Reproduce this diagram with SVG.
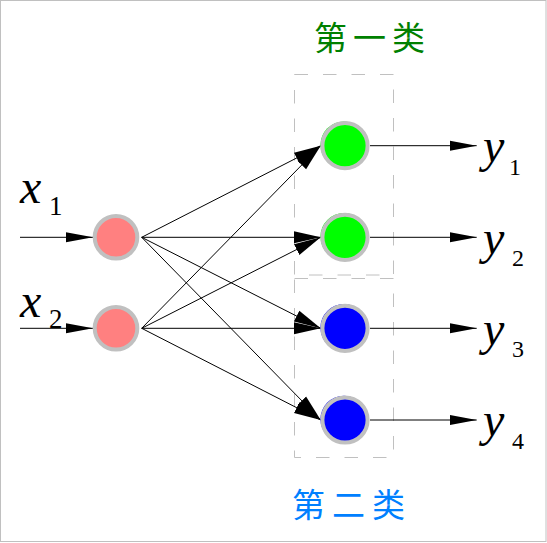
<svg xmlns="http://www.w3.org/2000/svg" width="547" height="543" viewBox="0 0 547 543">
<style>
.frame{fill:#ffffff;stroke:#c0c0c0;stroke-width:1}
.box{fill:none;stroke:#c0c0c0;stroke-width:1;stroke-dasharray:13.5 15}
.wire{stroke:#000;stroke-width:1;fill:none}
.ring{stroke:#c0c0c0;stroke-width:4}
.inp{fill:#ff8080}
.c1{fill:#00ff00}
.c2{fill:#0000ff}
.var{font-family:"Liberation Serif","Times New Roman",serif;font-style:italic;font-size:48px;fill:#000}
.subx{font-family:"Liberation Serif","Times New Roman",serif;font-size:27px;fill:#000}
.suby{font-family:"Liberation Serif","Times New Roman",serif;font-size:24px;fill:#000}
.title{font-family:"Noto Sans CJK SC",sans-serif;font-size:33px}
</style>
<defs>
<marker id="arr" markerUnits="userSpaceOnUse" markerWidth="28" markerHeight="12" refX="27" refY="6" orient="auto" viewBox="0 0 28 12">
<path d="M0,1 L27,6 L0,11 Z" fill="#000"/>
</marker>
<marker id="arrm" markerUnits="userSpaceOnUse" markerWidth="28" markerHeight="14" refX="27" refY="7" orient="auto" viewBox="0 0 28 14">
<path d="M0,1 L27,7 L0,13 Z" fill="#000"/>
</marker>
</defs>
<rect class="frame" x="0.5" y="0.5" width="545.5" height="541"/>

<g id="groups">
<rect id="box-class1" class="box" x="294.5" y="74.5" width="99" height="200.5"/>
<rect id="box-class2" class="box" x="294.5" y="278.5" width="99" height="179"/>
<text class="title" x="314" y="50" fill="#008000" letter-spacing="6">第一类</text>
<text class="title" x="292" y="517" fill="#0080ff" letter-spacing="7">第二类</text>
</g>

<g id="connectors">
<line class="wire" x1="20" y1="237.3" x2="93" y2="237.3" marker-end="url(#arr)"/>
<line class="wire" x1="20" y1="328.3" x2="93" y2="328.3" marker-end="url(#arr)"/>
<line class="wire" x1="141.7" y1="237.3" x2="320.7" y2="145.7" marker-end="url(#arrm)"/>
<line class="wire" x1="141.7" y1="237.3" x2="320.7" y2="237.3" marker-end="url(#arrm)"/>
<line class="wire" x1="141.7" y1="237.3" x2="320.7" y2="328.3" marker-end="url(#arrm)"/>
<line class="wire" x1="141.7" y1="237.3" x2="320.7" y2="420" marker-end="url(#arrm)"/>
<line class="wire" x1="141.7" y1="328.3" x2="320.7" y2="145.7" marker-end="url(#arrm)"/>
<line class="wire" x1="141.7" y1="328.3" x2="320.7" y2="237.3" marker-end="url(#arrm)"/>
<line class="wire" x1="141.7" y1="328.3" x2="320.7" y2="328.3" marker-end="url(#arrm)"/>
<line class="wire" x1="141.7" y1="328.3" x2="320.7" y2="420" marker-end="url(#arrm)"/>
<line class="wire" x1="370" y1="145.7" x2="476.7" y2="145.7" marker-end="url(#arr)"/>
<line class="wire" x1="370" y1="237.3" x2="476.7" y2="237.3" marker-end="url(#arr)"/>
<line class="wire" x1="370" y1="328.3" x2="476.7" y2="328.3" marker-end="url(#arr)"/>
<line class="wire" x1="370" y1="420" x2="476.7" y2="420" marker-end="url(#arr)"/>
</g>

<g id="node-x1">
<circle class="inp ring" cx="116" cy="237.3" r="21.3"/>
<text class="var" x="20" y="202.5">x</text>
<text class="subx" x="49" y="215">1</text>
</g>
<g id="node-x2">
<circle class="inp ring" cx="116" cy="328.3" r="21.3"/>
<text class="var" x="20" y="316.7">x</text>
<text class="subx" x="49" y="328">2</text>
</g>

<g id="node-y1">
<circle class="c1" cx="344" cy="145" r="23.6"/>
<circle class="c1 ring" cx="345" cy="145.7" r="22.6"/>
<text class="var" x="483" y="162">y</text>
<text class="suby" x="509" y="174.5">1</text>
</g>
<g id="node-y2">
<circle class="c1" cx="344" cy="236.6" r="23.6"/>
<circle class="c1 ring" cx="345" cy="237.3" r="22.6"/>
<text class="var" x="483" y="253.6">y</text>
<text class="suby" x="512" y="265.5">2</text>
</g>
<g id="node-y3">
<circle class="c2" cx="344" cy="327.6" r="23.6"/>
<circle class="c2 ring" cx="345" cy="328.3" r="22.6"/>
<text class="var" x="483" y="344.6">y</text>
<text class="suby" x="512" y="356.8">3</text>
</g>
<g id="node-y4">
<circle class="c2" cx="344" cy="419.3" r="23.6"/>
<circle class="c2 ring" cx="345" cy="420" r="22.6"/>
<text class="var" x="483" y="436.3">y</text>
<text class="suby" x="512" y="448.5">4</text>
</g>
</svg>
